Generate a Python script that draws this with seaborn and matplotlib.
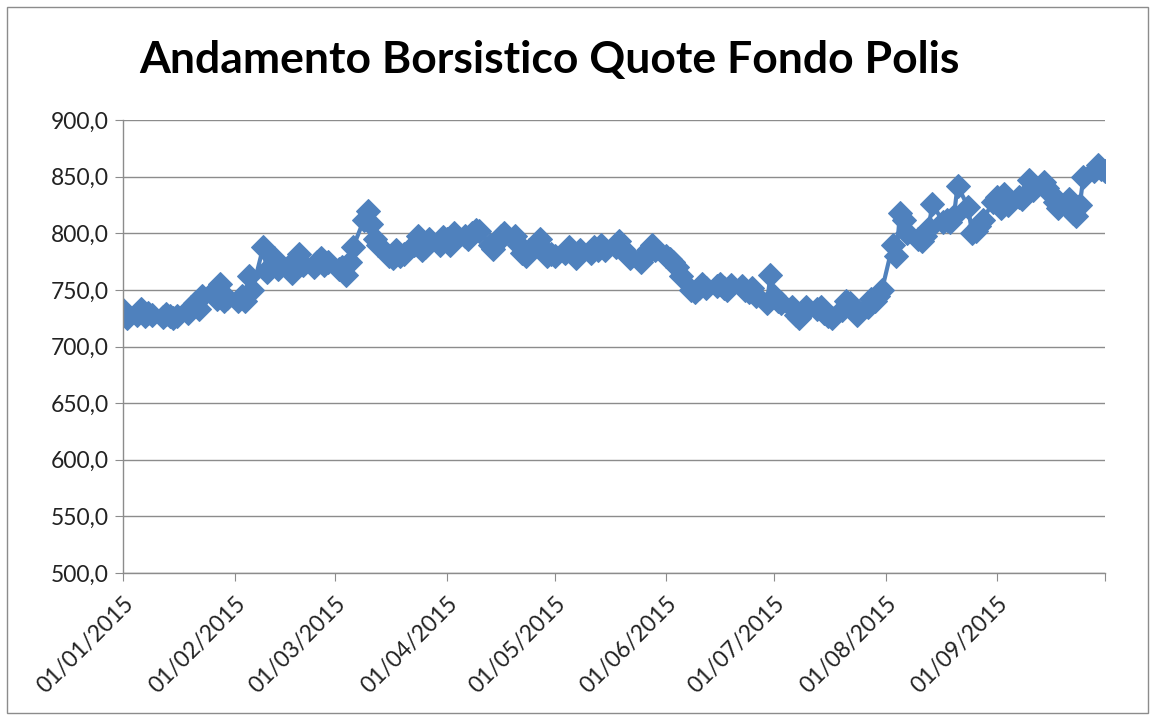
import numpy as np
import pandas as pd
import matplotlib
matplotlib.use("Agg")
import matplotlib.pyplot as plt
from matplotlib.ticker import FuncFormatter
from matplotlib.patches import Rectangle
import seaborn as sns

# quote values, one per trading day, month by month
jan = [732, 725, 728, 733, 727, 730, 728, 726, 729, 727, 725, 727, 730, 735, 738, 733, 745, 748, 742, 755, 740, 743]
feb = [740, 745, 740, 762, 750, 788, 766, 770, 778, 768, 770, 765, 775, 782, 772, 770, 775, 778, 772, 775]
mar = [768, 770, 763, 775, 788, 812, 820, 808, 795, 790, 780, 778, 785, 780, 782, 790, 798, 785, 788, 795, 790, 797]
apr = [795, 790, 800, 798, 795, 800, 803, 802, 790, 786, 792, 798, 800, 798, 790, 783, 780, 785, 795, 785, 780, 782]
may = [780, 783, 788, 782, 778, 785, 783, 788, 785, 790, 785, 788, 793, 786, 782, 778, 775, 780, 785, 790, 785]
jun = [780, 777, 775, 770, 762, 750, 748, 752, 755, 752, 753, 755, 752, 750, 754, 753, 750, 748, 752, 745, 738, 763]
jul = [745, 740, 738, 735, 728, 725, 730, 735, 733, 735, 730, 727, 725, 732, 740, 738, 733, 728, 735, 742, 740, 745, 750]
aug = [790, 780, 818, 812, 800, 795, 793, 798, 805, 826, 810, 812, 810, 815, 842, 823, 800, 802, 806, 812, 828]
sep = [832, 822, 835, 825, 832, 830, 835, 847, 838, 845, 840, 835, 828, 822, 830, 818, 815, 825, 850, 855, 860, 857]
oct_ = [855]

quotes = jan + feb + mar + apr + may + jun + jul + aug + sep + oct_
dates = pd.bdate_range("2015-01-01", "2015-10-01")
assert len(dates) == len(quotes)

month_ticks = pd.date_range("2015-01-01", "2015-10-01", freq="MS")
tick_labels = [d.strftime("%d/%m/%Y") for d in month_ticks[:-1]] + [""]
y_ticks = np.arange(500, 901, 50)

df = pd.DataFrame({"data": dates, "quota": quotes})

sns.set_style("white")
plt.rcParams["font.family"] = ["Lato", "DejaVu Sans"]

fig = plt.figure(figsize=(11.56, 7.15), dpi=100)
ax = fig.add_axes([123 / 1156, 1 - 573 / 715, (1105 - 123) / 1156, (573 - 120) / 715])

sns.lineplot(data=df, x="data", y="quota", ax=ax, color="#4F81BD", linewidth=3,
             marker="D", markersize=12.5, markeredgecolor="#4F81BD")

ax.set_xlim(month_ticks[0], month_ticks[-1])
ax.set_ylim(500, 900)
ax.set_yticks(y_ticks)
ax.yaxis.set_major_formatter(FuncFormatter(lambda v, p: f"{v:.1f}".replace(".", ",")))
ax.set_xticks(month_ticks)
ax.set_xticklabels(tick_labels, rotation=45, ha="right", rotation_mode="anchor")
ax.set_xlabel("")
ax.set_ylabel("")

ax.grid(axis="y", color="#8c8c8c", linewidth=1)
ax.set_axisbelow(True)
for side in ["top", "right"]:
    ax.spines[side].set_visible(False)
for side in ["left", "bottom"]:
    ax.spines[side].set_color("#8c8c8c")
    ax.spines[side].set_linewidth(1)
ax.tick_params(axis="both", which="major", direction="out", length=6, color="#8c8c8c",
               labelsize=16.5, labelcolor="#222222", pad=4, left=True, bottom=True)
ax.tick_params(axis="x", pad=8)

fig.text(549 / 1156, 1 - 60 / 715, "Andamento Borsistico Quote Fondo Polis",
         ha="center", va="center", fontsize=32, fontweight="bold", color="black")

fig.add_artist(Rectangle((7 / 1156, 2 / 715), (1148 - 7) / 1156, (708 - 2) / 715,
                         transform=fig.transFigure, fill=False, edgecolor="#8c8c8c", linewidth=1))

fig.savefig("out.png", dpi=100)
